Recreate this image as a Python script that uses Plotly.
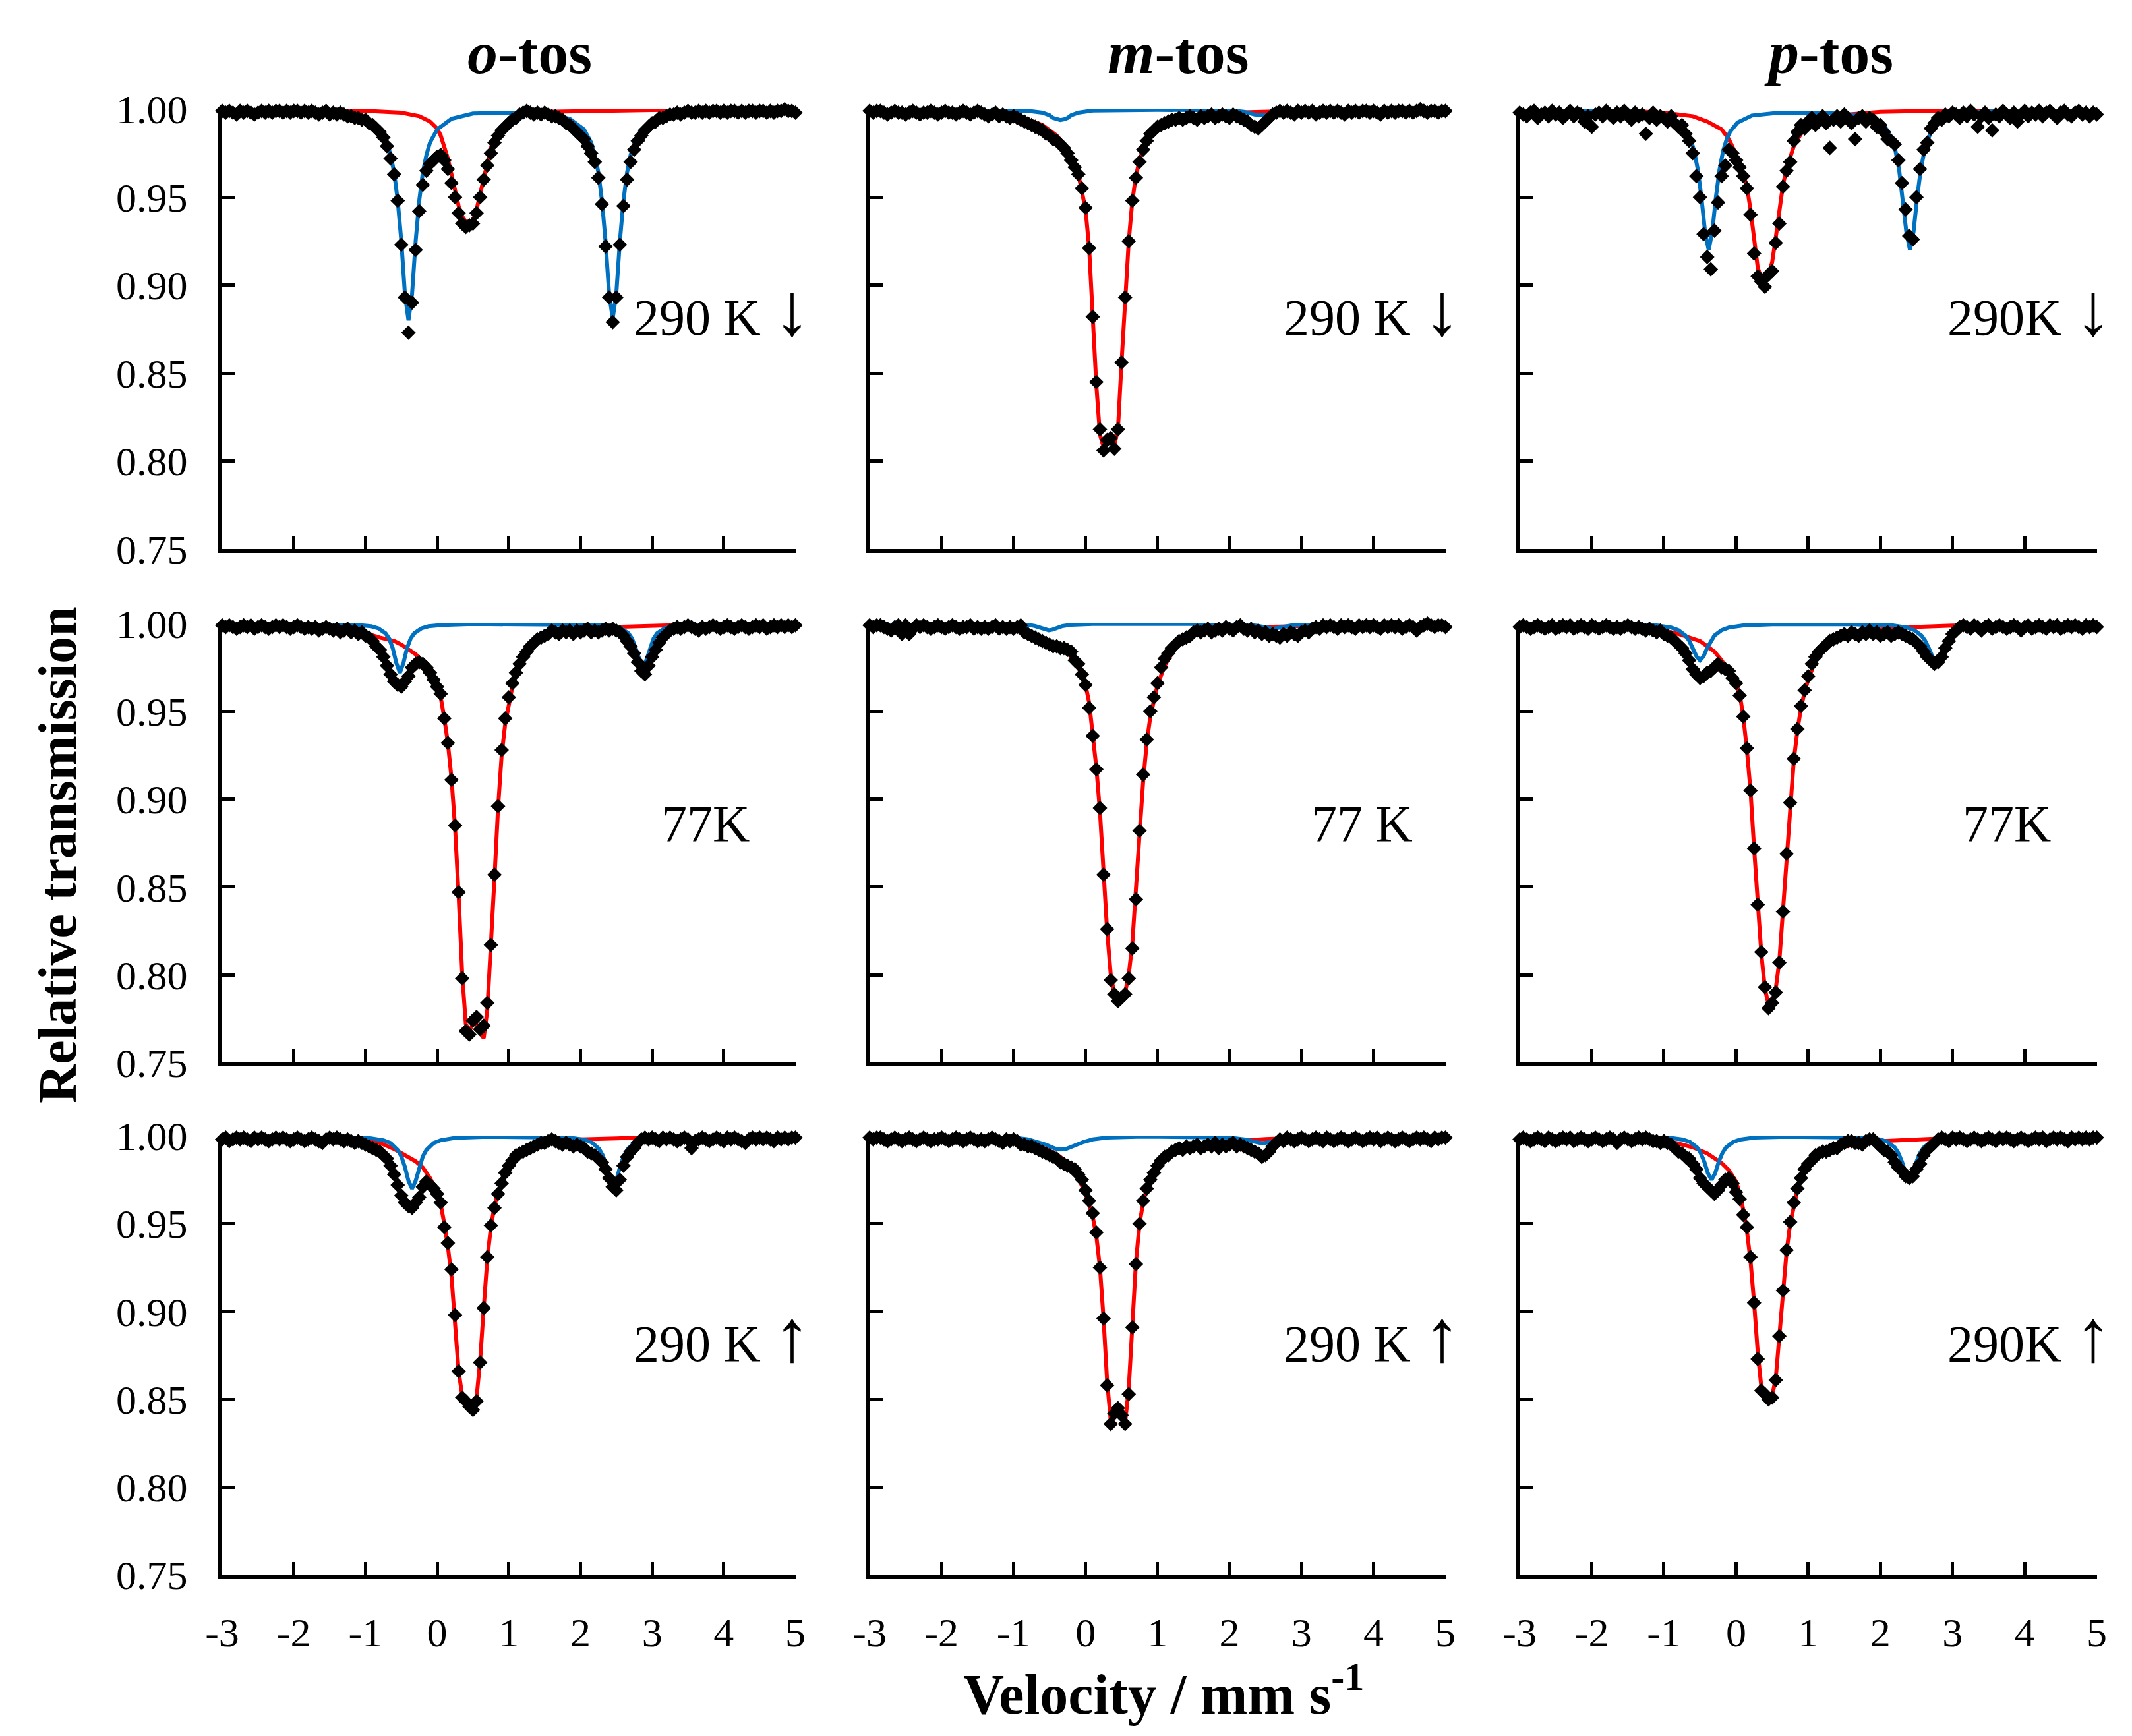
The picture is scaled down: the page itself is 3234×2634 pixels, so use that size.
import plotly.graph_objects as go

# Mossbauer spectra of the o-, m- and p-tosylate complexes (290 K cooling, 77 K, 290 K warming)

W, H = 3234, 2634
FONT = "Liberation Serif, Times New Roman, serif"
RED = "#FF0000"
BLUE = "#0070C0"

VELOCITY = [
    -3.00, -2.95, -2.90, -2.85, -2.80, -2.75, -2.70, -2.65, -2.60, -2.55,
    -2.50, -2.45, -2.40, -2.35, -2.30, -2.25, -2.20, -2.15, -2.10, -2.05,
    -2.00, -1.95, -1.90, -1.85, -1.80, -1.75, -1.70, -1.65, -1.60, -1.55,
    -1.50, -1.45, -1.40, -1.35, -1.30, -1.25, -1.20, -1.15, -1.10, -1.05,
    -1.00, -0.95, -0.90, -0.85, -0.80, -0.75, -0.70, -0.65, -0.60, -0.55,
    -0.50, -0.45, -0.40, -0.35, -0.30, -0.25, -0.20, -0.15, -0.10, -0.05,
    0.00, 0.05, 0.10, 0.15, 0.20, 0.25, 0.30, 0.35, 0.40, 0.45,
    0.50, 0.55, 0.60, 0.65, 0.70, 0.75, 0.80, 0.85, 0.90, 0.95,
    1.00, 1.05, 1.10, 1.15, 1.20, 1.25, 1.30, 1.35, 1.40, 1.45,
    1.50, 1.55, 1.60, 1.65, 1.70, 1.75, 1.80, 1.85, 1.90, 1.95,
    2.00, 2.05, 2.10, 2.15, 2.20, 2.25, 2.30, 2.35, 2.40, 2.45,
    2.50, 2.55, 2.60, 2.65, 2.70, 2.75, 2.80, 2.85, 2.90, 2.95,
    3.00, 3.05, 3.10, 3.15, 3.20, 3.25, 3.30, 3.35, 3.40, 3.45,
    3.50, 3.55, 3.60, 3.65, 3.70, 3.75, 3.80, 3.85, 3.90, 3.95,
    4.00, 4.05, 4.10, 4.15, 4.20, 4.25, 4.30, 4.35, 4.40, 4.45,
    4.50, 4.55, 4.60, 4.65, 4.70, 4.75, 4.80, 4.85, 4.90, 4.95,
    5.00,
]

# ---- measured relative transmission ----
O_290_DOWN = [
    0.999, 0.998, 0.999, 0.998, 0.997, 0.999, 0.998, 0.999, 0.998, 0.997,
    0.998, 0.999, 0.998, 0.999, 0.998, 0.999, 0.999, 0.998, 0.999, 0.998,
    0.999, 0.999, 0.998, 0.999, 0.998, 0.999, 0.998, 0.997, 0.998, 0.999,
    0.997, 0.998, 0.997, 0.998, 0.997, 0.996, 0.996, 0.995, 0.995, 0.994,
    0.994, 0.992, 0.991, 0.989, 0.987, 0.984, 0.979, 0.972, 0.963, 0.948,
    0.923, 0.893, 0.873, 0.890, 0.920, 0.942, 0.957, 0.965, 0.969, 0.971,
    0.973, 0.974, 0.971, 0.966, 0.958, 0.950, 0.941, 0.935, 0.933, 0.934,
    0.935, 0.941, 0.950, 0.960, 0.968, 0.975, 0.981, 0.985, 0.988, 0.990,
    0.992, 0.994, 0.995, 0.997, 0.998, 0.999, 0.998, 0.997, 0.998, 0.997,
    0.998, 0.997, 0.996, 0.996, 0.995, 0.994, 0.992, 0.991, 0.989, 0.987,
    0.985, 0.983, 0.979, 0.975, 0.970, 0.961, 0.946, 0.922, 0.893, 0.879,
    0.893, 0.923, 0.945, 0.960, 0.970, 0.977, 0.982, 0.985, 0.988, 0.990,
    0.992, 0.993, 0.995, 0.995, 0.996, 0.997, 0.997, 0.998, 0.997, 0.998,
    0.999, 0.998, 0.998, 0.999, 0.998, 0.999, 0.998, 0.999, 0.999, 0.998,
    0.999, 0.998, 0.999, 0.999, 0.998, 0.999, 0.998, 0.999, 0.999, 0.998,
    0.999, 0.999, 0.998, 0.999, 0.998, 0.999, 0.999, 1.000, 0.999, 0.999,
    0.998,
]
M_290_DOWN = [
    0.999, 0.998, 0.999, 0.999, 0.998, 0.997, 0.998, 0.999, 0.998, 0.998,
    0.997, 0.998, 0.999, 0.998, 0.997, 0.998, 0.998, 0.999, 0.998, 0.997,
    0.998, 0.999, 0.998, 0.998, 0.997, 0.998, 0.999, 0.998, 0.997, 0.998,
    0.999, 0.998, 0.997, 0.996, 0.997, 0.998, 0.996, 0.997, 0.996, 0.995,
    0.996, 0.995, 0.994, 0.993, 0.992, 0.991, 0.990, 0.989, 0.988, 0.986,
    0.985, 0.983, 0.982, 0.980, 0.978, 0.975, 0.971, 0.967, 0.963, 0.955,
    0.944, 0.921, 0.882, 0.845, 0.818, 0.806, 0.812, 0.813, 0.807, 0.818,
    0.856, 0.893, 0.925, 0.948, 0.961, 0.970, 0.977, 0.982, 0.986, 0.988,
    0.990, 0.991, 0.992, 0.993, 0.994, 0.994, 0.995, 0.994, 0.995, 0.996,
    0.995, 0.994, 0.996, 0.995, 0.996, 0.997, 0.995, 0.996, 0.997, 0.996,
    0.995, 0.997, 0.996, 0.995, 0.994, 0.993, 0.991, 0.990, 0.989, 0.991,
    0.993, 0.995, 0.997, 0.998, 0.999, 0.998, 0.999, 0.998, 0.997, 0.999,
    0.998, 0.999, 0.998, 0.999, 0.997, 0.998, 0.999, 0.998, 0.999, 0.998,
    0.999, 0.998, 0.997, 0.999, 0.998, 0.999, 0.998, 0.999, 0.999, 0.998,
    0.999, 0.998, 0.997, 0.999, 0.998, 0.999, 0.998, 0.999, 0.999, 0.998,
    0.999, 0.998, 0.999, 1.000, 0.999, 0.998, 0.999, 0.999, 0.998, 0.999,
    0.999,
]
P_290_DOWN = [
    0.998, 0.997, 0.996, 0.998, 0.999, 0.995, 0.997, 0.998, 0.996, 0.999,
    0.997, 0.998, 0.995, 0.997, 0.999, 0.996, 0.998, 0.997, 0.993, 0.996,
    0.990, 0.997, 0.998, 0.996, 0.999, 0.997, 0.995, 0.998, 0.996, 0.999,
    0.997, 0.994, 0.998, 0.996, 0.997, 0.986, 0.995, 0.998, 0.994, 0.996,
    0.995, 0.993, 0.996, 0.992, 0.990, 0.991, 0.986, 0.982, 0.975, 0.962,
    0.950, 0.929, 0.916, 0.909, 0.931, 0.947, 0.962, 0.968, 0.977, 0.975,
    0.971, 0.967, 0.962, 0.955, 0.940, 0.918, 0.905, 0.902, 0.899, 0.906,
    0.908, 0.924, 0.935, 0.956, 0.965, 0.970, 0.982, 0.987, 0.991, 0.989,
    0.993, 0.995, 0.991, 0.994, 0.996, 0.992, 0.978, 0.994, 0.996, 0.993,
    0.997, 0.995, 0.992, 0.983, 0.995, 0.996, 0.993, 0.995, 0.994, 0.990,
    0.991, 0.987, 0.983, 0.982, 0.980, 0.971, 0.958, 0.943, 0.928, 0.926,
    0.950, 0.966, 0.977, 0.981, 0.989, 0.992, 0.995, 0.994, 0.997, 0.996,
    0.998, 0.997, 0.995, 0.998, 0.996, 0.999, 0.997, 0.990, 0.996, 0.998,
    0.995, 0.988, 0.997, 0.996, 0.999, 0.997, 0.995, 0.998, 0.993, 0.997,
    0.999, 0.996, 0.998, 0.997, 0.999, 0.996, 0.998, 0.999, 0.997, 0.995,
    0.998, 0.999, 0.997, 0.996, 0.998, 0.999, 0.997, 0.998, 0.996, 0.998,
    0.997,
]
O_77 = [
    0.999, 0.998, 0.999, 0.998, 0.997, 0.998, 0.999, 0.998, 0.999, 0.997,
    0.998, 0.999, 0.998, 0.997, 0.998, 0.999, 0.998, 0.999, 0.998, 0.997,
    0.998, 0.999, 0.998, 0.997, 0.998, 0.997, 0.998, 0.996, 0.997, 0.998,
    0.997, 0.996, 0.997, 0.995, 0.996, 0.997, 0.995, 0.996, 0.994, 0.995,
    0.993, 0.992, 0.990, 0.987, 0.985, 0.981, 0.976, 0.971, 0.967, 0.965,
    0.964, 0.967, 0.970, 0.975, 0.977, 0.978, 0.977, 0.975, 0.972, 0.968,
    0.964, 0.960, 0.946, 0.932, 0.911, 0.885, 0.847, 0.798, 0.768, 0.766,
    0.774, 0.776, 0.769, 0.771, 0.784, 0.817, 0.857, 0.896, 0.928, 0.946,
    0.958, 0.966, 0.972, 0.977, 0.981, 0.984, 0.987, 0.989, 0.991, 0.992,
    0.993, 0.994, 0.996, 0.995, 0.994, 0.996, 0.995, 0.996, 0.994, 0.996,
    0.995, 0.996, 0.997, 0.995, 0.996, 0.995, 0.996, 0.997, 0.996, 0.997,
    0.996, 0.995, 0.993, 0.990, 0.987, 0.983, 0.978, 0.973, 0.971, 0.976,
    0.981, 0.985, 0.989, 0.992, 0.994, 0.996, 0.997, 0.998, 0.997, 0.998,
    0.999, 0.998, 0.997, 0.996, 0.998, 0.997, 0.998, 0.999, 0.998, 0.997,
    0.998, 0.999, 0.998, 0.997, 0.998, 0.999, 0.998, 0.997, 0.998, 0.999,
    0.998, 0.999, 0.997, 0.998, 0.999, 0.998, 0.999, 0.998, 0.999, 0.998,
    0.999,
]
M_77 = [
    0.999, 0.998, 0.999, 0.999, 0.998, 0.997, 0.996, 0.998, 0.999, 0.994,
    0.999, 0.994, 0.997, 0.999, 0.998, 0.999, 0.998, 0.997, 0.998, 0.999,
    0.998, 0.997, 0.998, 0.999, 0.998, 0.997, 0.998, 0.998, 0.999, 0.997,
    0.998, 0.997, 0.998, 0.997, 0.998, 0.999, 0.997, 0.998, 0.997, 0.998,
    0.997, 0.998, 0.999, 0.995, 0.994, 0.993, 0.992, 0.991, 0.990, 0.989,
    0.988, 0.987, 0.987, 0.986, 0.986, 0.985, 0.984, 0.979, 0.977, 0.971,
    0.965, 0.952, 0.936, 0.917, 0.895, 0.857, 0.826, 0.797, 0.789, 0.785,
    0.787, 0.789, 0.798, 0.815, 0.843, 0.882, 0.914, 0.934, 0.950, 0.958,
    0.966, 0.975, 0.980, 0.983, 0.986, 0.988, 0.990, 0.991, 0.992, 0.993,
    0.995, 0.996, 0.995, 0.996, 0.997, 0.995, 0.996, 0.997, 0.996, 0.998,
    0.997, 0.996, 0.998, 0.999, 0.997, 0.996, 0.997, 0.995, 0.996, 0.994,
    0.995, 0.993, 0.994, 0.993, 0.992, 0.994, 0.993, 0.995, 0.994, 0.993,
    0.995, 0.996, 0.995, 0.997, 0.998, 0.997, 0.999, 0.998, 0.999, 0.998,
    0.997, 0.999, 0.998, 0.999, 0.998, 0.997, 0.999, 0.998, 0.999, 0.998,
    0.999, 0.998, 0.997, 0.999, 0.998, 0.999, 0.998, 0.999, 0.997, 0.998,
    0.999, 0.998, 0.996, 0.998, 0.999, 1.000, 0.999, 0.998, 0.999, 0.999,
    0.998,
]
P_77 = [
    0.998, 0.999, 0.998, 0.997, 0.998, 0.999, 0.998, 0.997, 0.998, 0.999,
    0.997, 0.998, 0.999, 0.998, 0.999, 0.997, 0.998, 0.999, 0.998, 0.997,
    0.999, 0.998, 0.997, 0.998, 0.999, 0.998, 0.997, 0.998, 0.997, 0.998,
    0.999, 0.998, 0.997, 0.998, 0.997, 0.996, 0.997, 0.996, 0.995, 0.996,
    0.994, 0.993, 0.992, 0.990, 0.988, 0.986, 0.983, 0.979, 0.974, 0.971,
    0.969, 0.970, 0.972, 0.973, 0.975, 0.977, 0.975, 0.974, 0.973, 0.969,
    0.966, 0.959, 0.947, 0.929, 0.905, 0.872, 0.840, 0.813, 0.793, 0.781,
    0.784, 0.790, 0.807, 0.836, 0.869, 0.898, 0.923, 0.940, 0.953, 0.962,
    0.970, 0.977, 0.981, 0.984, 0.986, 0.988, 0.990, 0.991, 0.992, 0.993,
    0.994, 0.993, 0.995, 0.994, 0.993, 0.995, 0.994, 0.996, 0.994, 0.995,
    0.993, 0.994, 0.995, 0.993, 0.994, 0.995, 0.994, 0.993, 0.992, 0.991,
    0.989, 0.987, 0.984, 0.981, 0.979, 0.977, 0.978, 0.981, 0.986, 0.990,
    0.994, 0.996, 0.998, 0.999, 0.998, 0.997, 0.999, 0.998, 0.996, 0.998,
    0.999, 0.997, 0.998, 0.999, 0.998, 0.997, 0.998, 0.999, 0.998, 0.996,
    0.998, 0.999, 0.997, 0.998, 0.999, 0.998, 0.997, 0.999, 0.998, 0.999,
    0.997, 0.998, 0.999, 0.998, 0.999, 0.998, 0.997, 0.999, 0.998, 0.999,
    0.998,
]
O_290_UP = [
    0.998, 0.999, 0.997, 0.998, 0.999, 0.998, 0.999, 0.998, 0.997, 0.999,
    0.998, 0.999, 0.998, 0.997, 0.998, 0.999, 0.998, 0.999, 0.998, 0.997,
    0.998, 0.999, 0.998, 0.997, 0.998, 0.999, 0.998, 0.997, 0.996, 0.998,
    0.999, 0.998, 0.999, 0.998, 0.997, 0.998, 0.997, 0.996, 0.997, 0.996,
    0.995, 0.994, 0.993, 0.992, 0.991, 0.989, 0.987, 0.983, 0.978, 0.972,
    0.966, 0.962, 0.960, 0.959, 0.962, 0.965, 0.971, 0.974, 0.972, 0.970,
    0.967, 0.962, 0.948, 0.939, 0.924, 0.898, 0.866, 0.851, 0.849, 0.846,
    0.844, 0.849, 0.871, 0.902, 0.931, 0.949, 0.959, 0.967, 0.973, 0.979,
    0.983, 0.986, 0.989, 0.990, 0.991, 0.992, 0.993, 0.994, 0.995, 0.996,
    0.996, 0.997, 0.998, 0.997, 0.996, 0.995, 0.996, 0.995, 0.994, 0.995,
    0.994, 0.993, 0.991, 0.990, 0.989, 0.987, 0.985, 0.981, 0.976, 0.971,
    0.969, 0.975, 0.983, 0.988, 0.991, 0.993, 0.996, 0.998, 0.999, 0.998,
    0.999, 0.998, 0.997, 0.999, 0.998, 0.999, 0.998, 0.997, 0.998, 0.999,
    0.998, 0.993, 0.997, 0.998, 0.999, 0.998, 0.997, 0.998, 0.999, 0.998,
    0.997, 0.999, 0.998, 0.999, 0.998, 0.997, 0.996, 0.998, 0.999, 0.998,
    0.999, 0.998, 0.999, 0.998, 0.997, 0.999, 0.998, 0.999, 0.998, 0.999,
    0.999,
]
M_290_UP = [
    0.999, 0.998, 0.999, 0.999, 0.998, 0.997, 0.998, 0.999, 0.998, 0.997,
    0.998, 0.999, 0.998, 0.997, 0.998, 0.999, 0.998, 0.997, 0.998, 0.998,
    0.999, 0.998, 0.997, 0.998, 0.999, 0.998, 0.997, 0.998, 0.999, 0.998,
    0.997, 0.998, 0.997, 0.998, 0.999, 0.998, 0.997, 0.996, 0.998, 0.997,
    0.998, 0.997, 0.995, 0.995, 0.994, 0.994, 0.993, 0.992, 0.991, 0.990,
    0.989, 0.988, 0.987, 0.985, 0.984, 0.983, 0.982, 0.981, 0.978, 0.975,
    0.969, 0.963, 0.956, 0.945, 0.925, 0.896, 0.858, 0.836, 0.842, 0.845,
    0.841, 0.836, 0.853, 0.891, 0.927, 0.950, 0.963, 0.970, 0.975, 0.979,
    0.983, 0.986, 0.988, 0.989, 0.991, 0.992, 0.993, 0.992, 0.994, 0.993,
    0.994, 0.995, 0.993, 0.994, 0.995, 0.994, 0.996, 0.993, 0.995, 0.994,
    0.995, 0.996, 0.994, 0.995, 0.994, 0.993, 0.992, 0.991, 0.990, 0.988,
    0.989, 0.991, 0.994, 0.996, 0.998, 0.997, 0.999, 0.998, 0.997, 0.998,
    0.999, 0.998, 0.997, 0.998, 0.999, 0.998, 0.997, 0.999, 0.998, 0.997,
    0.998, 0.999, 0.998, 0.997, 0.998, 0.999, 0.998, 0.997, 0.998, 0.999,
    0.998, 0.999, 0.997, 0.998, 0.999, 0.998, 0.997, 0.998, 0.999, 0.998,
    0.997, 0.998, 0.999, 0.998, 0.999, 0.998, 0.997, 0.999, 0.998, 0.999,
    0.999,
]
P_290_UP = [
    0.998, 0.999, 0.998, 0.997, 0.998, 0.999, 0.998, 0.997, 0.999, 0.998,
    0.997, 0.998, 0.999, 0.998, 0.999, 0.997, 0.998, 0.999, 0.998, 0.997,
    0.998, 0.999, 0.998, 0.997, 0.998, 0.999, 0.998, 0.996, 0.998, 0.999,
    0.998, 0.997, 0.998, 0.999, 0.998, 0.999, 0.998, 0.997, 0.997, 0.996,
    0.997, 0.996, 0.995, 0.993, 0.991, 0.990, 0.988, 0.987, 0.984, 0.981,
    0.976, 0.973, 0.971, 0.969, 0.967, 0.969, 0.972, 0.975, 0.976, 0.973,
    0.968, 0.964, 0.955, 0.948, 0.931, 0.905, 0.873, 0.855, 0.853, 0.850,
    0.851, 0.861, 0.886, 0.912, 0.935, 0.951, 0.962, 0.970, 0.976, 0.981,
    0.984, 0.986, 0.989, 0.990, 0.991, 0.991, 0.992, 0.993, 0.993, 0.995,
    0.996, 0.997, 0.997, 0.996, 0.996, 0.995, 0.997, 0.998, 0.998, 0.996,
    0.994, 0.992, 0.991, 0.989, 0.985, 0.982, 0.980, 0.977, 0.976, 0.977,
    0.981, 0.984, 0.989, 0.992, 0.994, 0.996, 0.998, 0.999, 0.998, 0.997,
    0.999, 0.998, 0.999, 0.998, 0.997, 0.998, 0.999, 0.998, 0.997, 0.998,
    0.999, 0.998, 0.997, 0.999, 0.998, 0.999, 0.998, 0.997, 0.998, 0.999,
    0.998, 0.997, 0.998, 0.999, 0.998, 0.999, 0.997, 0.998, 0.999, 0.998,
    0.999, 0.998, 0.997, 0.999, 0.998, 0.999, 0.998, 0.999, 0.998, 0.999,
    0.999,
]

# ---- fitted sub-spectra (red: main doublet, blue: second doublet) ----
O_290_DOWN_RED_V = [-3, -1.5, -1.0, -0.5, -0.25, -0.1, 0.0, 0.05, 0.1, 0.15, 0.2, 0.25, 0.3, 0.35, 0.4,
                    0.45, 0.5, 0.55, 0.6, 0.65, 0.7, 0.75, 0.8, 0.9, 1.0, 1.2, 1.5, 2.0, 3.0, 5.0]
O_290_DOWN_RED = [1.000, 0.9995, 0.999, 0.998, 0.996, 0.993, 0.989, 0.985, 0.979, 0.972, 0.963, 0.954, 0.945,
                  0.939, 0.936, 0.935, 0.937, 0.943, 0.952, 0.962, 0.971, 0.978, 0.984, 0.990, 0.9935, 0.997,
                  0.9985, 0.999, 0.9995, 1.000]
O_290_DOWN_BLUE_V = [-3, -2, -1.4, -1.0, -0.8, -0.7, -0.65, -0.6, -0.55, -0.5, -0.45, -0.4, -0.35, -0.3, -0.25,
                     -0.2, -0.15, -0.1, 0.0, 0.2, 0.5, 1.0, 1.5, 1.85, 2.05, 2.15, 2.2, 2.25, 2.3, 2.35, 2.4,
                     2.45, 2.5, 2.55, 2.6, 2.65, 2.7, 2.75, 2.85, 3.05, 3.45, 4.0, 5.0]
O_290_DOWN_BLUE = [0.9997, 0.9993, 0.9985, 0.9945, 0.9885, 0.981, 0.974, 0.964, 0.948, 0.925, 0.895, 0.880,
                   0.895, 0.925, 0.948, 0.964, 0.974, 0.981, 0.9885, 0.9945, 0.9975, 0.998, 0.9975, 0.9945,
                   0.9885, 0.981, 0.974, 0.964, 0.948, 0.925, 0.895, 0.881, 0.895, 0.925, 0.948, 0.964, 0.974,
                   0.981, 0.9885, 0.9945, 0.998, 0.999, 0.9996]

M_290_DOWN_RED_V = [-3, -2, -1.5, -1.2, -1.0, -0.8, -0.6, -0.5, -0.4, -0.3, -0.2, -0.15, -0.1, -0.05, 0.0,
                    0.05, 0.1, 0.15, 0.2, 0.25, 0.3, 0.35, 0.4, 0.45, 0.5, 0.55, 0.6, 0.65, 0.7, 0.75, 0.8,
                    0.85, 0.9, 1.0, 1.1, 1.2, 1.5, 2.0, 3.0, 5.0]
M_290_DOWN_RED = [0.9995, 0.999, 0.998, 0.997, 0.996, 0.994, 0.991, 0.988, 0.985, 0.980, 0.974, 0.969, 0.963,
                  0.953, 0.943, 0.921, 0.882, 0.843, 0.815, 0.808, 0.810, 0.812, 0.809, 0.818, 0.856, 0.892,
                  0.925, 0.948, 0.962, 0.971, 0.978, 0.983, 0.987, 0.990, 0.993, 0.9945, 0.9965, 0.998, 0.999,
                  0.9995]
M_290_DOWN_BLUE_V = [-3, -1.2, -0.8, -0.6, -0.5, -0.45, -0.4, -0.35, -0.3, -0.25, -0.2, -0.1, 0.1, 0.5, 1.0,
                     2.0, 2.2, 2.35, 2.45, 2.55, 2.7, 3.0, 5.0]
M_290_DOWN_BLUE = [1.000, 0.9995, 0.999, 0.998, 0.9965, 0.995, 0.9942, 0.9938, 0.9942, 0.995, 0.9965, 0.998,
                   0.9992, 0.9995, 0.9996, 0.9994, 0.9985, 0.997, 0.9965, 0.997, 0.9985, 0.9995, 1.000]

P_290_DOWN_RED_V = [-3, -2, -1.5, -1.0, -0.6, -0.4, -0.2, -0.1, 0.0, 0.05, 0.1, 0.15, 0.2, 0.25, 0.3, 0.35,
                    0.4, 0.45, 0.5, 0.55, 0.6, 0.65, 0.7, 0.75, 0.8, 0.9, 1.0, 1.2, 1.5, 2.0, 3.0, 5.0]
P_290_DOWN_RED = [0.9997, 0.9993, 0.999, 0.998, 0.996, 0.993, 0.9885, 0.983, 0.975, 0.970, 0.963, 0.956, 0.943,
                  0.925, 0.910, 0.904, 0.903, 0.906, 0.913, 0.927, 0.944, 0.957, 0.966, 0.973, 0.979, 0.986,
                  0.990, 0.9942, 0.9968, 0.9985, 0.9993, 1.000]
P_290_DOWN_BLUE_V = [-3, -2, -1.4, -0.98, -0.78, -0.68, -0.63, -0.58, -0.53, -0.48, -0.43, -0.38, -0.33, -0.28,
                     -0.23, -0.18, -0.13, -0.08, 0.02, 0.22, 0.6, 1.2, 1.81, 2.01, 2.11, 2.16, 2.21, 2.26,
                     2.31, 2.36, 2.41, 2.46, 2.51, 2.56, 2.61, 2.66, 2.71, 2.81, 3.01, 3.4, 4.0, 5.0]
P_290_DOWN_BLUE = [0.9998, 0.9995, 0.999, 0.9964, 0.9924, 0.9874, 0.983, 0.9762, 0.9656, 0.9498, 0.9303,
                   0.920, 0.9303, 0.9498, 0.9656, 0.9762, 0.983, 0.9874, 0.9924, 0.9964, 0.998, 0.998,
                   0.9964, 0.9924, 0.9874, 0.983, 0.9762, 0.9656, 0.9498, 0.9303, 0.920, 0.9303, 0.9498,
                   0.9656, 0.9762, 0.983, 0.9874, 0.9924, 0.9964, 0.9985, 0.9993, 0.9997]

O_77_RED_V = [-3, -2, -1.5, -1.2, -1.0, -0.8, -0.6, -0.5, -0.4, -0.3, -0.2, -0.1, 0.0, 0.05, 0.1, 0.15, 0.2,
              0.25, 0.3, 0.35, 0.4, 0.45, 0.5, 0.55, 0.6, 0.65, 0.7, 0.75, 0.8, 0.85, 0.9, 0.95, 1.0, 1.05,
              1.1, 1.2, 1.3, 1.45, 1.6, 2.0, 2.5, 3.3, 5.0]
O_77_RED = [0.9995, 0.999, 0.998, 0.996, 0.9945, 0.992, 0.990, 0.988, 0.9855, 0.9825, 0.978, 0.972, 0.964,
            0.958, 0.946, 0.932, 0.912, 0.884, 0.845, 0.800, 0.772, 0.768, 0.772, 0.772, 0.767, 0.764, 0.780,
            0.815, 0.855, 0.895, 0.925, 0.943, 0.955, 0.964, 0.971, 0.980, 0.986, 0.991, 0.994, 0.997, 0.998,
            0.999, 0.9997]
O_77_BLUE_V = [-3, -1.5, -1.12, -0.92, -0.82, -0.72, -0.67, -0.62, -0.57, -0.52, -0.47, -0.42, -0.37, -0.32,
               -0.22, -0.12, 0.08, 0.5, 2.0, 2.27, 2.47, 2.57, 2.67, 2.72, 2.77, 2.82, 2.87, 2.92, 2.97, 3.02,
               3.07, 3.17, 3.27, 3.5, 5.0]
O_77_BLUE = [1.000, 0.9997, 0.9992, 0.9984, 0.9972, 0.9944, 0.9914, 0.986, 0.9776, 0.972, 0.9776, 0.986,
             0.9914, 0.9944, 0.9972, 0.9984, 0.9992, 0.9997, 0.9996, 0.9992, 0.9984, 0.9972, 0.9944, 0.9914,
             0.986, 0.9792, 0.974, 0.9792, 0.986, 0.9914, 0.9944, 0.9972, 0.9984, 0.9992, 0.9998]

M_77_RED_V = [-3, -2, -1.5, -1.0, -0.8, -0.6, -0.4, -0.3, -0.2, -0.1, 0.0, 0.05, 0.1, 0.15, 0.2, 0.25, 0.3,
              0.35, 0.4, 0.45, 0.5, 0.55, 0.6, 0.65, 0.7, 0.75, 0.8, 0.85, 0.9, 0.95, 1.0, 1.1, 1.2, 1.3, 1.45,
              1.6, 2.0, 2.5, 3.0, 5.0]
M_77_RED = [0.9995, 0.999, 0.998, 0.996, 0.994, 0.991, 0.988, 0.985, 0.981, 0.975, 0.965, 0.955, 0.938, 0.918,
            0.893, 0.858, 0.825, 0.800, 0.789, 0.786, 0.786, 0.790, 0.800, 0.818, 0.846, 0.880, 0.910, 0.932,
            0.947, 0.957, 0.965, 0.976, 0.983, 0.988, 0.992, 0.995, 0.997, 0.998, 0.9985, 0.9995]
M_77_BLUE_V = [-3, -1.0, -0.8, -0.7, -0.62, -0.56, -0.51, -0.46, -0.4, -0.32, -0.2, 0.1, 2.0, 2.3, 2.45, 2.55,
               2.6, 2.65, 2.75, 2.9, 3.2, 5.0]
M_77_BLUE = [1.000, 0.9997, 0.9993, 0.9985, 0.9975, 0.9965, 0.9961, 0.9965, 0.9975, 0.9985, 0.9993, 0.9997,
             0.9997, 0.9992, 0.9982, 0.9973, 0.997, 0.9973, 0.9982, 0.9992, 0.9997, 1.000]

P_77_RED_V = [-3, -2, -1.5, -1.0, -0.8, -0.6, -0.5, -0.4, -0.3, -0.2, -0.1, 0.0, 0.05, 0.1, 0.15, 0.2, 0.25,
              0.3, 0.35, 0.4, 0.45, 0.5, 0.55, 0.6, 0.65, 0.7, 0.75, 0.8, 0.85, 0.9, 0.95, 1.0, 1.1, 1.2, 1.3,
              1.45, 1.6, 2.0, 2.5, 3.0, 5.0]
P_77_RED = [0.9995, 0.999, 0.998, 0.996, 0.994, 0.9915, 0.990, 0.987, 0.984, 0.979, 0.973, 0.966, 0.960, 0.947,
            0.928, 0.905, 0.872, 0.840, 0.812, 0.792, 0.783, 0.784, 0.792, 0.808, 0.838, 0.870, 0.899, 0.922,
            0.939, 0.952, 0.961, 0.968, 0.979, 0.985, 0.989, 0.992, 0.994, 0.9965, 0.998, 0.9988, 0.9996]
P_77_BLUE_V = [-3, -1.5, -1.1, -0.9, -0.8, -0.7, -0.65, -0.6, -0.55, -0.5, -0.45, -0.4, -0.35, -0.3, -0.2, -0.1,
               0.1, 0.5, 1.6, 2.17, 2.37, 2.47, 2.57, 2.62, 2.67, 2.72, 2.77, 2.82, 2.87, 2.92, 2.97, 3.07,
               3.17, 3.37, 4.0, 5.0]
P_77_BLUE = [0.9998, 0.9996, 0.9989, 0.9977, 0.9962, 0.9931, 0.9902, 0.9861, 0.9814, 0.979, 0.9814, 0.9861,
             0.9902, 0.9931, 0.9962, 0.9977, 0.9989, 0.9995, 0.9995, 0.9989, 0.9977, 0.9962, 0.9931, 0.9902,
             0.9861, 0.9814, 0.979, 0.9814, 0.9861, 0.9902, 0.9931, 0.9962, 0.9977, 0.9989, 0.9996, 0.9998]

O_290_UP_RED_V = [-3, -2, -1.5, -1.0, -0.8, -0.6, -0.4, -0.3, -0.2, -0.1, 0.0, 0.05, 0.1, 0.15, 0.2, 0.25, 0.3,
                  0.35, 0.4, 0.45, 0.5, 0.55, 0.6, 0.65, 0.7, 0.75, 0.8, 0.85, 0.9, 1.0, 1.1, 1.2, 1.4, 1.7,
                  2.0, 2.5, 3.0, 5.0]
O_290_UP_RED = [0.9997, 0.9993, 0.9988, 0.9982, 0.996, 0.9925, 0.988, 0.9855, 0.982, 0.976, 0.968, 0.961,
                0.950, 0.937, 0.920, 0.893, 0.866, 0.852, 0.847, 0.845, 0.846, 0.851, 0.872, 0.902, 0.930, 0.948,
                0.960, 0.968, 0.974, 0.982, 0.988, 0.991, 0.995, 0.997, 0.998, 0.9986, 0.9992, 0.9998]
O_290_UP_BLUE_V = [-3, -1.35, -0.95, -0.75, -0.65, -0.55, -0.5, -0.45, -0.4, -0.35, -0.3, -0.25, -0.2, -0.15,
                   -0.05, 0.05, 0.25, 0.7, 1.5, 1.86, 2.06, 2.16, 2.26, 2.31, 2.36, 2.41, 2.46, 2.51, 2.56,
                   2.61, 2.66, 2.76, 2.86, 3.06, 3.46, 5.0]
O_290_UP_BLUE = [0.9998, 0.9996, 0.9988, 0.9975, 0.9959, 0.992, 0.9883, 0.9823, 0.9744, 0.970, 0.9744, 0.9823,
                 0.9883, 0.992, 0.9959, 0.9975, 0.9988, 0.9995, 0.9993, 0.9989, 0.9977, 0.9962, 0.9926, 0.989,
                 0.9835, 0.9761, 0.972, 0.9761, 0.9835, 0.989, 0.9926, 0.9962, 0.9977, 0.9989, 0.9996, 0.9998]

M_290_UP_RED_V = [-3, -2, -1.5, -1.0, -0.8, -0.6, -0.4, -0.3, -0.2, -0.1, 0.0, 0.05, 0.1, 0.15, 0.2, 0.25, 0.3,
                  0.35, 0.4, 0.45, 0.5, 0.55, 0.6, 0.65, 0.7, 0.75, 0.8, 0.85, 0.9, 1.0, 1.1, 1.2, 1.4, 1.7,
                  2.0, 2.5, 3.0, 5.0]
M_290_UP_RED = [0.9998, 0.9993, 0.999, 0.998, 0.996, 0.9935, 0.9895, 0.9865, 0.982, 0.976, 0.967, 0.961, 0.954,
                0.943, 0.925, 0.896, 0.860, 0.838, 0.840, 0.844, 0.840, 0.837, 0.856, 0.893, 0.928, 0.950, 0.962,
                0.970, 0.975, 0.982, 0.987, 0.990, 0.9935, 0.996, 0.997, 0.9982, 0.999, 0.9997]
M_290_UP_BLUE_V = [-3, -1.5, -1.0, -0.8, -0.65, -0.55, -0.48, -0.42, -0.34, -0.26, -0.2, -0.13, -0.03, 0.1, 0.3,
                   0.8, 1.6, 2.0, 2.2, 2.32, 2.4, 2.45, 2.5, 2.58, 2.7, 2.9, 3.4, 5.0]
M_290_UP_BLUE = [0.9999, 0.9996, 0.999, 0.998, 0.9965, 0.995, 0.9937, 0.9927, 0.9922, 0.9927, 0.9937, 0.995,
                 0.9965, 0.998, 0.999, 0.9996, 0.9995, 0.999, 0.998, 0.9968, 0.996, 0.9958, 0.996, 0.9968, 0.998,
                 0.999, 0.9996, 0.9999]

P_290_UP_RED_V = [-3, -2, -1.5, -1.0, -0.8, -0.6, -0.4, -0.3, -0.2, -0.1, 0.0, 0.05, 0.1, 0.15, 0.2, 0.25, 0.3,
                  0.35, 0.4, 0.45, 0.5, 0.55, 0.6, 0.65, 0.7, 0.75, 0.8, 0.85, 0.9, 1.0, 1.1, 1.2, 1.4, 1.7,
                  2.0, 2.5, 3.0, 5.0]
P_290_UP_RED = [0.9997, 0.9992, 0.9987, 0.9977, 0.9958, 0.9935, 0.990, 0.9875, 0.9845, 0.9805, 0.974, 0.967,
                0.958, 0.946, 0.929, 0.905, 0.877, 0.857, 0.851, 0.850, 0.852, 0.862, 0.886, 0.912, 0.934, 0.950,
                0.961, 0.969, 0.975, 0.982, 0.987, 0.990, 0.993, 0.9955, 0.997, 0.998, 0.9988, 0.9997]
P_290_UP_BLUE_V = [-3, -1.34, -0.94, -0.74, -0.64, -0.54, -0.49, -0.44, -0.39, -0.34, -0.29, -0.24, -0.19,
                   -0.14, -0.04, 0.06, 0.26, 0.7, 1.5, 1.8, 2.0, 2.1, 2.2, 2.25, 2.3, 2.35, 2.4, 2.45, 2.5, 2.55,
                   2.6, 2.7, 2.8, 3.0, 3.4, 5.0]
P_290_UP_BLUE = [0.9998, 0.9996, 0.999, 0.9979, 0.9965, 0.9934, 0.9902, 0.9852, 0.9787, 0.975, 0.9787, 0.9852,
                 0.9902, 0.9934, 0.9965, 0.9979, 0.999, 0.9995, 0.9994, 0.999, 0.9979, 0.9965, 0.9934, 0.9902,
                 0.9852, 0.9787, 0.975, 0.9787, 0.9852, 0.9902, 0.9934, 0.9965, 0.9979, 0.999, 0.9996, 0.9998]

COLUMN_TITLES = ["<b><i>o</i>-tos</b>", "<b><i>m</i>-tos</b>", "<b><i>p</i>-tos</b>"]
DOWN = "<span style='font-size:112px'>↓</span>"
UP = "<span style='font-size:112px'>↑</span>"
TEMP_LABELS = [
    ["290 K " + DOWN, "290 K " + DOWN, "290K " + DOWN],
    ["77K", "77 K", "77K"],
    ["290 K " + UP, "290 K " + UP, "290K " + UP],
]
X_TICKS = [-3, -2, -1, 0, 1, 2, 3, 4, 5]
X_TICK_TEXT = ["-3", "-2", "-1", "0", "1", "2", "3", "4", "5"]
Y_TICKS = [0.75, 0.80, 0.85, 0.90, 0.95, 1.00]
Y_TICK_TEXT = ["0.75", "0.80", "0.85", "0.90", "0.95", "1.00"]

# (row, col, data, red fit, blue fit)
PANELS = [
    (0, 0, O_290_DOWN, O_290_DOWN_RED_V, O_290_DOWN_RED, O_290_DOWN_BLUE_V, O_290_DOWN_BLUE),
    (0, 1, M_290_DOWN, M_290_DOWN_RED_V, M_290_DOWN_RED, M_290_DOWN_BLUE_V, M_290_DOWN_BLUE),
    (0, 2, P_290_DOWN, P_290_DOWN_RED_V, P_290_DOWN_RED, P_290_DOWN_BLUE_V, P_290_DOWN_BLUE),
    (1, 0, O_77, O_77_RED_V, O_77_RED, O_77_BLUE_V, O_77_BLUE),
    (1, 1, M_77, M_77_RED_V, M_77_RED, M_77_BLUE_V, M_77_BLUE),
    (1, 2, P_77, P_77_RED_V, P_77_RED, P_77_BLUE_V, P_77_BLUE),
    (2, 0, O_290_UP, O_290_UP_RED_V, O_290_UP_RED, O_290_UP_BLUE_V, O_290_UP_BLUE),
    (2, 1, M_290_UP, M_290_UP_RED_V, M_290_UP_RED, M_290_UP_BLUE_V, M_290_UP_BLUE),
    (2, 2, P_290_UP, P_290_UP_RED_V, P_290_UP_RED, P_290_UP_BLUE_V, P_290_UP_BLUE),
]

# panel frame in pixels of the 3234 x 2634 page
COL_LEFT = [307, 1302, 2301]
COL_RIGHT = [1188, 2187, 3188]
ROW_TOP = [128, 929, 1727]
ROW_BOTTOM = [813, 1613, 2411]
# temperature label: (x in mm/s, anchor, extra pixel shift to the right)
LABEL_POS = [
    [(5.0, "right", 24)] * 3,
    [(3.74, "center", 0), (3.84, "center", 0), (3.75, "center", 0)],
    [(5.0, "right", 24)] * 3,
]

fig = go.Figure()
annotations = []

for row, col, data, red_v, red_t, blue_v, blue_t in PANELS:
    assert len(data) == len(VELOCITY), (row, col, len(data))
    assert len(red_v) == len(red_t), (row, col, "red", len(red_v), len(red_t))
    assert len(blue_v) == len(blue_t), (row, col, "blue", len(blue_v), len(blue_t))
    k = row * 3 + col + 1
    sfx = "" if k == 1 else str(k)
    common = dict(xaxis="x" + sfx, yaxis="y" + sfx, showlegend=False, cliponaxis=False, hoverinfo="skip")
    fig.add_trace(go.Scatter(x=red_v, y=red_t, mode="lines", line=dict(color=RED, width=6), **common))
    fig.add_trace(go.Scatter(x=blue_v, y=blue_t, mode="lines", line=dict(color=BLUE, width=6), **common))
    fig.add_trace(go.Scatter(x=VELOCITY, y=data, mode="markers",
                             marker=dict(symbol="diamond", size=17, color="black", line=dict(width=0)),
                             **common))

    axis_common = dict(showline=True, linewidth=6, linecolor="black", ticks="inside", ticklen=20,
                       tickwidth=5, tickcolor="black", showgrid=False, zeroline=False,
                       tickfont=dict(family=FONT, size=62, color="black"))
    fig.update_layout(**{
        "xaxis" + sfx: dict(domain=[COL_LEFT[col] / W, COL_RIGHT[col] / W], range=[-3, 5],
                            anchor="y" + sfx, tickvals=X_TICKS, ticktext=X_TICK_TEXT,
                            showticklabels=(row == 2), ticklabelstandoff=28, **axis_common),
        "yaxis" + sfx: dict(domain=[1 - ROW_BOTTOM[row] / H, 1 - ROW_TOP[row] / H], range=[0.75, 1.0],
                            anchor="x" + sfx, tickvals=Y_TICKS, ticktext=Y_TICK_TEXT,
                            showticklabels=(col == 0), ticklabelstandoff=34, **axis_common),
    })

    lx, anchor, shift = LABEL_POS[row][col]
    annotations.append(dict(x=lx, y=0.886, xref="x" + sfx, yref="y" + sfx, text=TEMP_LABELS[row][col],
                            showarrow=False, xanchor=anchor, yanchor="middle", xshift=shift,
                            font=dict(family=FONT, size=78, color="black")))

for col, title in enumerate(COLUMN_TITLES):
    cx = (COL_LEFT[col] + COL_RIGHT[col]) / 2 + 32
    annotations.append(dict(x=cx / W, y=1 - 40 / H, xref="paper", yref="paper", text=title, showarrow=False,
                            xanchor="center", yanchor="middle", font=dict(family=FONT, size=92, color="black")))

annotations.append(dict(x=54 / W, y=1 - 1289 / H, xref="paper", yref="paper", text="<b>Relative transmission</b>",
                        textangle=-90, showarrow=False, xanchor="center", yanchor="middle",
                        font=dict(family=FONT, size=82, color="black")))
annotations.append(dict(x=1754 / W, y=1 - 2590 / H, xref="paper", yref="paper",
                        text="<b>Velocity / mm s<sup>-1</sup></b>", showarrow=False, xanchor="center",
                        yanchor="middle", font=dict(family=FONT, size=86, color="black")))

fig.update_layout(width=W, height=H, margin=dict(l=0, r=0, t=0, b=0), paper_bgcolor="white",
                  plot_bgcolor="white", annotations=annotations)

fig.write_html("out.html")
